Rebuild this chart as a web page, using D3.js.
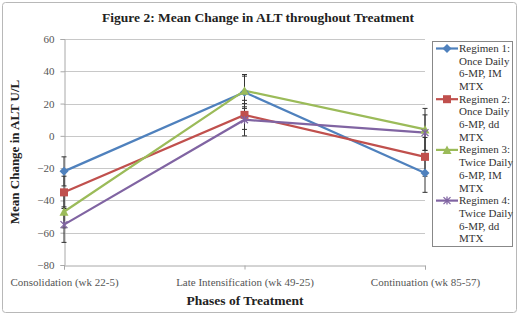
<!DOCTYPE html>
<html><head><meta charset="utf-8">
<script src="https://cdn.jsdelivr.net/npm/d3@7"></script>
<style>body{margin:0;background:#fff}svg{display:block}</style>
</head><body>
<svg id="c" width="520" height="316"></svg>
<script>
const categories = ["Consolidation (wk 22-5)", "Late Intensification (wk 49-25)", "Continuation (wk 85-57)"];
const seriesNames = [
  ["Regimen 1:", "Once Daily", "6-MP, IM", "MTX"],
  ["Regimen 2:", "Once Daily", "6-MP, dd", "MTX"],
  ["Regimen 3:", "Twice Daily", "6-MP, IM", "MTX"],
  ["Regimen 4:", "Twice Daily", "6-MP, dd", "MTX"]
];
const regimen1 = [-22, 27, -23];
const regimen2 = [-35, 13, -13];
const regimen3 = [-47, 28, 4];
const regimen4 = [-55, 10, 2];
const err1 = [9, 10, 12];
const err2 = [10, 9, 12];
const err3 = [10, 10, 13];
const err4 = [11, 10, 11];
const yTicks = [60, 40, 20, 0, -20, -40, -60, -80];
const colors = ["#4F81BD", "#C0504D", "#9BBB59", "#8064A2"];
const markers = ["diamond", "square", "triangle", "x"];
const values = [regimen1, regimen2, regimen3, regimen4];
const errs = [err1, err2, err3, err4];

const svg = d3.select("#c");
const serif = "'Liberation Serif', 'DejaVu Serif', serif";

svg.append("rect").attr("x", 2.5).attr("y", 2.5).attr("width", 514).attr("height", 310)
  .attr("rx", 3).attr("fill", "#fff").attr("stroke", "#b8b8b8").attr("stroke-width", 1);

const x = d3.scalePoint().domain(categories).range([64, 425]);
const y = d3.scaleLinear().domain([-80, 60]).range([265, 39]);

// gridlines
svg.append("g").selectAll("line").data(yTicks.filter(d => d !== -80)).join("line")
  .attr("x1", 64).attr("x2", 425)
  .attr("y1", d => Math.round(y(d)) + 0.5).attr("y2", d => Math.round(y(d)) + 0.5)
  .attr("stroke", "#c8c8c8").attr("stroke-width", 1);

// y axis
const yAxis = svg.append("g").attr("transform", "translate(64.5,0)")
  .call(d3.axisLeft(y).tickValues(yTicks).tickSize(4).tickPadding(6).tickFormat(d3.format("d")));
yAxis.select(".domain").attr("stroke", "#a8a8a8");
yAxis.selectAll(".tick line").attr("stroke", "#a8a8a8");
yAxis.selectAll("text").attr("font-family", serif).attr("font-size", 11).attr("fill", "#555");

// x axis
const xAxis = svg.append("g").attr("transform", `translate(0,${Math.round(y(-80)) + 0.5})`)
  .call(d3.axisBottom(x).tickSize(4).tickPadding(9));
xAxis.select(".domain").attr("stroke", "#a8a8a8");
xAxis.selectAll(".tick line").attr("stroke", "#a8a8a8");
xAxis.selectAll("text").attr("font-family", serif).attr("font-size", 11).attr("fill", "#555");

// titles
svg.append("text").attr("x", 258).attr("y", 22).attr("text-anchor", "middle")
  .attr("font-family", serif).attr("font-weight", "bold").attr("font-size", 13.5).attr("fill", "#222")
  .text("Figure 2: Mean Change in ALT throughout Treatment");
svg.append("text").attr("x", 245).attr("y", 305).attr("text-anchor", "middle")
  .attr("font-family", serif).attr("font-weight", "bold").attr("font-size", 13.5).attr("fill", "#222")
  .text("Phases of Treatment");
svg.append("text").attr("transform", "translate(19,152) rotate(-90)").attr("text-anchor", "middle")
  .attr("font-family", serif).attr("font-weight", "bold").attr("font-size", 13).attr("fill", "#222")
  .text("Mean Change in ALT U/L");

function drawMarker(g, type, color, cx, cy) {
  if (type === "diamond") {
    g.append("path").attr("d", `M${cx},${cy-4.5}L${cx+4.5},${cy}L${cx},${cy+4.5}L${cx-4.5},${cy}Z`).attr("fill", color);
  } else if (type === "square") {
    g.append("rect").attr("x", cx-4).attr("y", cy-4).attr("width", 8).attr("height", 8).attr("fill", color);
  } else if (type === "triangle") {
    g.append("path").attr("d", `M${cx},${cy-4.5}L${cx+4.5},${cy+4}L${cx-4.5},${cy+4}Z`).attr("fill", color);
  } else {
    g.append("path").attr("d", `M${cx-3.5},${cy-3.5}L${cx+3.5},${cy+3.5}M${cx-3.5},${cy+3.5}L${cx+3.5},${cy-3.5}M${cx},${cy-4}L${cx},${cy+4}`)
      .attr("stroke", color).attr("stroke-width", 1.3).attr("fill", "none");
  }
}

// series lines
const line = d3.line().x((d, i) => x(categories[i])).y(d => y(d));
values.forEach((vals, s) => {
  svg.append("path").datum(vals).attr("d", line).attr("fill", "none")
    .attr("stroke", colors[s]).attr("stroke-width", 2.2);
});

// error bars
const eg = svg.append("g").attr("stroke", "#333").attr("stroke-width", 1);
values.forEach((vals, s) => {
  vals.forEach((v, i) => {
    const cx = x(categories[i]);
    const e = errs[s][i];
    eg.append("line").attr("x1", cx).attr("x2", cx).attr("y1", y(v + e)).attr("y2", y(v - e));
    eg.append("line").attr("x1", cx - 2.5).attr("x2", cx + 2.5).attr("y1", y(v + e)).attr("y2", y(v + e));
    eg.append("line").attr("x1", cx - 2.5).attr("x2", cx + 2.5).attr("y1", y(v - e)).attr("y2", y(v - e));
  });
});

// markers
values.forEach((vals, s) => {
  const g = svg.append("g");
  vals.forEach((v, i) => drawMarker(g, markers[s], colors[s], x(categories[i]), y(v)));
});

// legend
const lg = svg.append("g");
lg.append("rect").attr("x", 432.5).attr("y", 41.5).attr("width", 80).attr("height", 205)
  .attr("fill", "#fff").attr("stroke", "#888").attr("stroke-width", 1);
seriesNames.forEach((lines, s) => {
  const top = 52 + s * 50.7;
  lg.append("line").attr("x1", 436).attr("x2", 458).attr("y1", top - 3.5).attr("y2", top - 3.5)
    .attr("stroke", colors[s]).attr("stroke-width", 2.2);
  drawMarker(lg, markers[s], colors[s], 447, top - 3.5);
  lines.forEach((t, k) => {
    lg.append("text").attr("x", 459).attr("y", top + k * 12.7)
      .attr("font-family", serif).attr("font-size", 11).attr("fill", "#333").text(t);
  });
});
</script>
</body></html>
